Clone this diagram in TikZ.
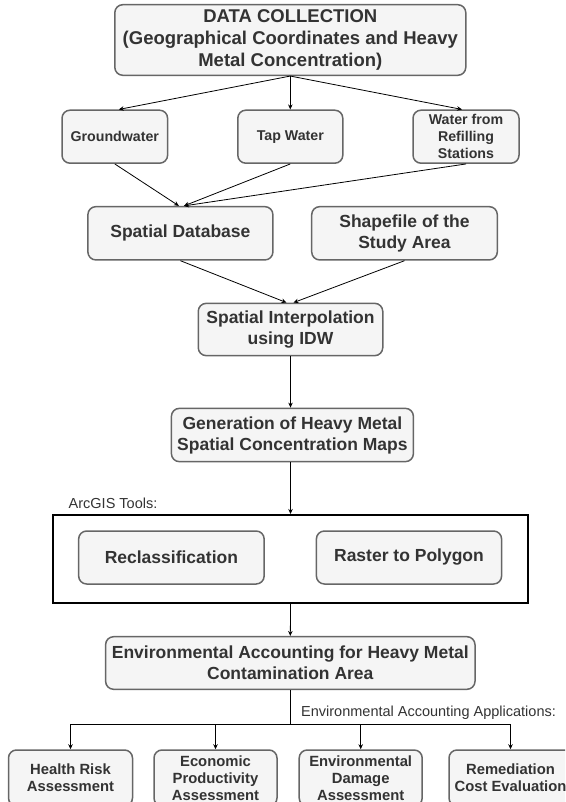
\documentclass[tikz,border=0pt]{standalone}
\usepackage{fontspec}
\setmainfont{Liberation Sans}
\usetikzlibrary{arrows.meta}
\definecolor{boxfill}{HTML}{F5F5F5}
\definecolor{boxline}{HTML}{666666}
\definecolor{txt}{HTML}{333333}
\newcommand\fTop{\fontsize{18.5}{21.7}\selectfont\bfseries}
\newcommand\fMid{\fontsize{17.5}{21}\selectfont\bfseries}
\newcommand\fSml{\fontsize{14.2}{17}\selectfont\bfseries}
\newcommand\fBot{\fontsize{14.8}{17}\selectfont\bfseries}
\newcommand\fLbl{\fontsize{14.5}{17}\selectfont}
\begin{document}
\begin{tikzpicture}[x=1pt,y=-1pt,
  box/.style={draw=boxline, fill=boxfill, rounded corners=8pt, line width=1.5pt, text=txt, align=center, inner sep=0pt},
  arr/.style={-{Stealth[length=5pt,width=4.5pt]}, line width=0.8pt, black},
  lnk/.style={line width=0.8pt, black},
  lbl/.style={text=txt, inner sep=0pt, anchor=west, font=\fLbl}]
\useasboundingbox (0,0) rectangle (565,802);
\clip (0,0) rectangle (565,802);
% top
\node[box, minimum width=351, minimum height=70.6, font=\fTop] (top) at (290.3,40) {DATA COLLECTION\\(Geographical Coordinates and Heavy\\Metal Concentration)};
% sources
\node[box, minimum width=105.6, minimum height=53, font=\fSml] (gw) at (114.8,136.7) {Groundwater};
\node[box, minimum width=105, minimum height=53, font=\fSml] (tap) at (290.3,136.7) {Tap Water};
\node[box, minimum width=106, minimum height=53, font=\fSml] (ref) at (466,136.7) {Water from\\Refilling\\Stations};
% database
\node[box, minimum width=185, minimum height=53.3, font=\fMid] (sd) at (180.4,233.3) {Spatial Database};
\node[box, minimum width=185.6, minimum height=53.3, font=\fMid] (sf) at (404.5,233.3) {Shapefile of the\\Study Area};
\node[box, minimum width=184.5, minimum height=52.3, font=\fMid] (si) at (290.5,329.5) {Spatial Interpolation\\using IDW};
\node[box, minimum width=242, minimum height=53.3, font=\fMid] (gen) at (292.4,435) {Generation of Heavy Metal\\Spatial Concentration Maps};
% ArcGIS frame
\node[lbl] (arcl) at (68.5,503.3) {ArcGIS Tools:};
\node[draw=black, line width=2pt, minimum width=475, minimum height=87.7, inner sep=0pt] (frame) at (290.6,558.8) {};
\node[box, minimum width=185.5, minimum height=53, font=\fMid] (recl) at (171.4,557.5) {Reclassification};
\node[box, minimum width=185.2, minimum height=53, font=\fMid] (rtp) at (409,557.5) {Raster to Polygon};
% accounting
\node[box, minimum width=369.4, minimum height=52.6, font=\fMid] (ea) at (290.3,663) {Environmental Accounting for Heavy Metal\\Contamination Area};
\node[lbl] (eal) at (301,712.7) {Environmental Accounting Applications:};
\coordinate (jn) at (290.3,724);
% applications
\node[box, minimum width=124, minimum height=56, font=\fBot] (hr) at (70.5,778) {Health Risk\\Assessment};
\node[box, minimum width=123, minimum height=56, font=\fBot] (ep) at (215.5,778) {Economic\\Productivity\\Assessment};
\node[box, minimum width=123, minimum height=56, font=\fBot] (ed) at (360.7,778) {Environmental\\Damage\\Assessment};
\node[box, minimum width=123, minimum height=56, font=\fBot] (rc) at (510.5,778) {Remediation\\Cost Evaluation};
% connectors
\draw[arr] (top.south) -- ([xshift=4pt]gw.north);
\draw[arr] (top.south) -- (tap.north);
\draw[arr] (top.south) -- ([xshift=-4pt]ref.north);
\draw[arr] (gw.south) -- ([xshift=-1.5pt]sd.north);
\draw[arr] (tap.south) -- ([xshift=3.5pt]sd.north);
\draw[arr] (ref.south) -- ([xshift=3.5pt]sd.north);
\draw[arr] (sd.south) -- ([xshift=-4pt]si.north);
\draw[arr] (sf.south) -- ([xshift=3pt]si.north);
\draw[arr] (si.south) -- (si.south |- gen.north);
\draw[arr] (si.south |- gen.south) -- (si.south |- frame.north);
\draw[arr] (frame.south) -- (ea.north);
\draw[lnk] (ea.south) -- (jn);
\draw[arr] (jn) -| (hr.north);
\draw[arr] (jn) -| (ep.north);
\draw[arr] (jn) -| (ed.north);
\draw[arr] (jn) -| (rc.north);
\end{tikzpicture}
\end{document}
